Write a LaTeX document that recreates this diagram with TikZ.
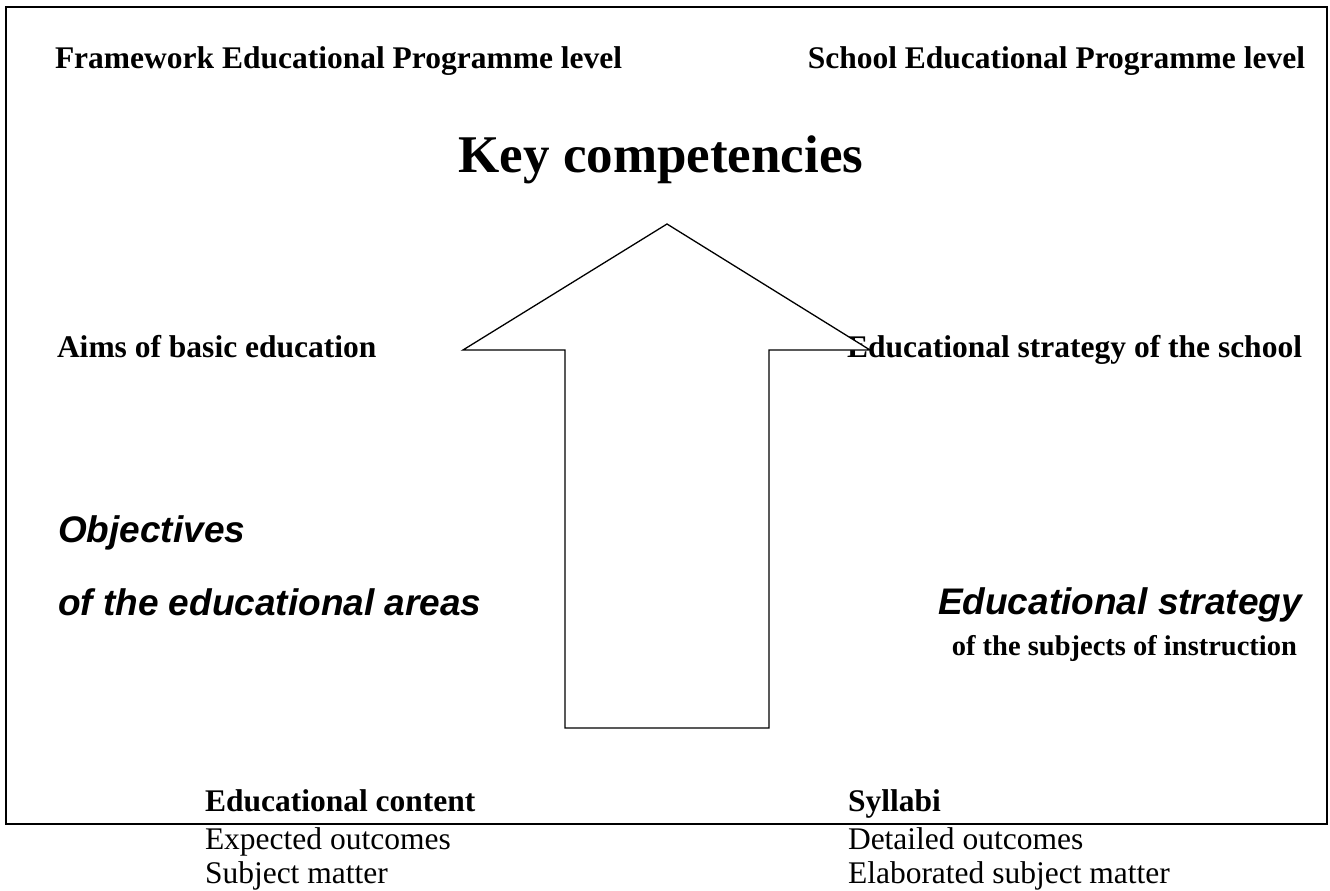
\documentclass[tikz,border=0pt]{standalone}
\usepackage{fontspec}
\setmainfont{Liberation Serif}
\newfontfamily\arialfont{Liberation Sans}
\tikzset{
  txt/.style={inner sep=0pt, outer sep=0pt},
  headb/.style={txt, font=\fontsize{31.5}{36}\selectfont\bfseries},
  plain/.style={txt, font=\fontsize{31.5}{36}\selectfont},
  bigb/.style={txt, font=\fontsize{53}{60}\selectfont\bfseries},
  sansbi/.style={txt, font=\arialfont\fontsize{37}{42}\selectfont\bfseries\itshape},
  subb/.style={txt, font=\fontsize{28.5}{33}\selectfont\bfseries},
  framebox/.style={draw=black, line width=1.6pt},
  bigarrow/.style={draw=black, fill=white, line width=1.3pt, line join=miter}
}
\begin{document}
\begin{tikzpicture}[x=1pt, y=-1pt]
\useasboundingbox (0,0) rectangle (1330,891);
\fill[white] (0,0) rectangle (1330,891);
\draw[framebox] (6,7) rectangle (1327,824);

\node[headb, anchor=base west] (fw) at (55,68) {Framework Educational Programme level};
\node[headb, anchor=base east] (sch) at (1305,68) {School Educational Programme level};
\node[bigb, anchor=base] (key) at (661,172) {Key competencies};

\node[headb, anchor=base west] (aims) at (57,357) {Aims of basic education};
\node[headb, anchor=base east] (strat) at (1302,357) {Educational strategy of the school};

\node[sansbi, anchor=base west] (obj) at (58,542) {Objectives};
\node[sansbi, anchor=base west] (areas) at (58,615) {of the educational areas};
\node[sansbi, anchor=base east] (estrat) at (1302,614) {Educational strategy};
\node[subb, anchor=base east] (subj) at (1297,655) {of the subjects of instruction};

\node[headb, anchor=base west] (econt) at (205,811) {Educational content};
\node[plain, anchor=base west] (exp) at (205,849) {Expected outcomes};
\node[plain, anchor=base west] (smat) at (205,883) {Subject matter};
\node[headb, anchor=base west] (syl) at (848,811) {Syllabi};
\node[plain, anchor=base west] (det) at (848,849) {Detailed outcomes};
\node[plain, anchor=base west] (elab) at (848,883) {Elaborated subject matter};

\draw[bigarrow] (565,728) -- (565,350) -- (463,350) -- (667,224) -- (870,350) -- (769,350) -- (769,728) -- cycle;
\end{tikzpicture}
\end{document}
